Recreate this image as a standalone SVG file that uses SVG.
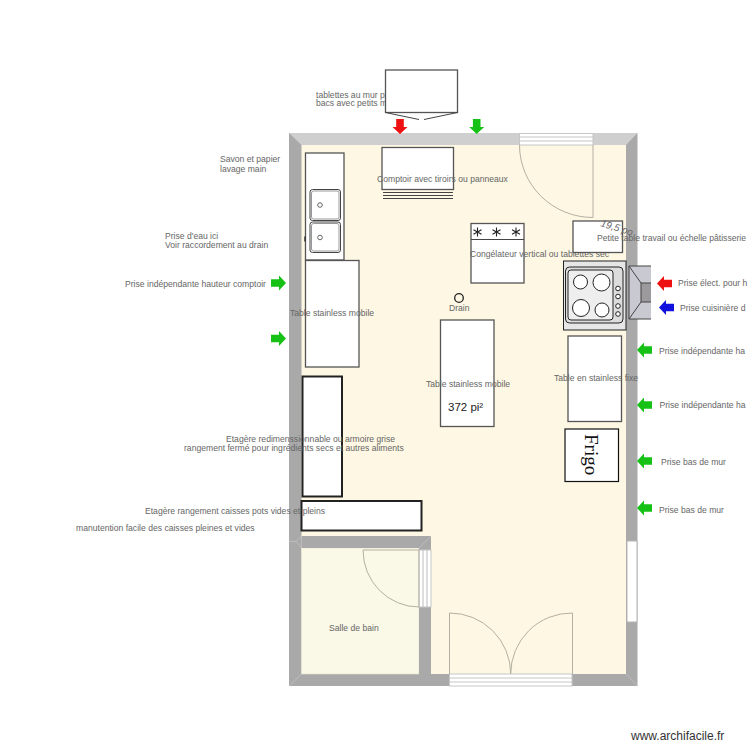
<svg xmlns="http://www.w3.org/2000/svg" xmlns:xlink="http://www.w3.org/1999/xlink" width="750" height="750" viewBox="0 0 750 750">
<style>
text{font-family:"Liberation Sans",Arial,sans-serif;font-size:8.6px;fill:#666}
.box{fill:#fff;stroke:#555;stroke-width:1.3}
.thick{fill:#fff;stroke:#222;stroke-width:2}
.thin{fill:none;stroke:#444;stroke-width:1}
.door{fill:none;stroke:#b4b0a2;stroke-width:1}
.wall{fill:#a9a9a9}
.open{fill:#fff;stroke:#c6c6c6;stroke-width:1}
.stripe{stroke:#c6c6c6;stroke-width:1.2}
.mitre{stroke:#c4c4c4;stroke-width:.7;fill:none}
</style>
<defs>
<path id="arrow" d="M0-3.8H8V-7.5L15 0L8 7.5V3.8H0Z"/>
<g id="star" stroke="#222" stroke-width="1.1"><path d="M0-4.6V4.6M-4-2.3L4 2.3M-4 2.3L4-2.3"/></g>
</defs>
<g id="plan">
<rect x="289" y="133" width="348.5" height="553" class="wall"/>
<rect x="301.500" y="133" width="325" height="12" fill="#cfcfcf"/>
<path d="M289 133H637.500L626 145H301.500Z" fill="#cfcfcf"/>
<rect x="301.500" y="145" width="324.500" height="529" fill="#fdf7e3"/>
<rect x="301.500" y="548" width="117.500" height="126" fill="#faf8e6" stroke="#e6e3cc" stroke-width=".6"/>
<path d="M289 536H431V674H419V548H301.500V536Z" class="wall"/>
<rect x="431" y="536" width="195" height="138" fill="#fdf7e3"/>
<path class="mitre" d="M289 686L301.500 674M637.500 686L626 674M289 541.500L296 541.500L301.500 536M296 541.500L301.500 548M431 536L419 548"/>
<rect x="627" y="541" width="10" height="81" fill="#fff" stroke="#b5b5b5"/>
</g>
<g id="door-top">
<rect x="519.500" y="133.500" width="73.500" height="11.500" fill="#fff" stroke="#c6c6c6"/>
<path class="stripe" d="M519.500 137H593M519.500 141H593"/>
<path class="door" d="M593 145V217.500A73.500 72.500 0 0 1 519.500 145"/>
</g>
<g id="door-bath">
<rect x="419" y="550" width="12" height="57" fill="#fff" stroke="#c6c6c6"/>
<path class="stripe" d="M423 550V607M427 550V607"/>
<path class="door" d="M363 550H419V607A56 57 0 0 1 363 550"/>
</g>
<g id="door-main">
<rect x="449.500" y="674" width="122.500" height="12" fill="#fff" stroke="#c6c6c6"/>
<path class="stripe" d="M449.500 678H572M449.500 682H572"/>
<path class="door" d="M449.500 674V613A61 61 0 0 1 510.700 674A61 61 0 0 1 572.500 613V674"/>
</g>
<g id="note-tablettes">
<text x="316" y="97.500">tablettes au mur pa</text>
<text x="316" y="105.500">bacs avec petits m</text>
</g>
<g id="box-top">
<rect x="385.500" y="70" width="72" height="42.500" class="box"/>
<path class="thin" d="M385.500 112.500L419 119.500M424 119.500L457.500 112.500"/>
</g>
<g id="counter">
<rect x="382" y="147.500" width="71.500" height="42" class="box"/>
<path class="thin" d="M383 192.500H453M383 195.500H453M383 198.500H453"/>
<text x="377" y="182">Comptoir avec tiroirs ou panneaux</text>
</g>
<g id="sink">
<rect x="305.500" y="153" width="38.500" height="107" class="box"/>
<rect x="310" y="189.500" width="30.500" height="31" rx="2.500" fill="#fff" stroke="#444"/>
<rect x="311.500" y="191" width="27.500" height="28" rx="2" fill="none" stroke="#999"/>
<circle cx="320" cy="205" r="2.300" fill="none" stroke="#666"/>
<rect x="310" y="222" width="30.500" height="30.500" rx="2.500" fill="#fff" stroke="#444"/>
<rect x="311.500" y="223.500" width="27.500" height="27.500" rx="2" fill="none" stroke="#999"/>
<circle cx="320" cy="237.500" r="2.300" fill="none" stroke="#666"/>
<path d="M305 236.500V241.500" stroke="#333" stroke-width="1.500"/>
</g>
<g id="table-left">
<rect x="305.500" y="260.500" width="53.500" height="106.500" class="box" stroke="#333"/>
<text x="290" y="316">Table stainless mobile</text>
</g>
<g id="shelf-tall">
<rect x="302.500" y="376.500" width="39.500" height="120" class="thick"/>
<text x="226" y="441.500">Etagère redimenssionnable ou armoire grise</text>
<text x="184" y="450.500">rangement fermé pour ingrédients secs et autres aliments</text>
</g>
<g id="shelf-wide">
<rect x="301.500" y="501" width="120" height="29.500" class="thick"/>
<text x="145" y="514">Etagère rangement caisses pots vides et pleins</text>
<text x="76" y="531">manutention facile des caisses pleines et vides</text>
</g>
<g id="freezer">
<rect x="471" y="223.500" width="53" height="59.500" class="box"/>
<path class="thin" d="M471 239.500H524"/>
<use xlink:href="#star" href="#star" x="477.500" y="232"/>
<use xlink:href="#star" href="#star" x="496.500" y="232"/>
<use xlink:href="#star" href="#star" x="516" y="232"/>
<text x="470" y="257">Congélateur vertical ou tablettes sec</text>
</g>
<g id="small-table">
<rect x="573" y="221" width="49.500" height="31.500" class="box" stroke="#333"/>
<text x="600" y="226" transform="rotate(17 600 226)" font-style="italic" style="font-size:10px">19,5 po</text>
<text x="597" y="241">Petite table travail ou échelle pâtisserie</text>
</g>
<g id="stove">
<rect x="563.500" y="261" width="62.500" height="69" fill="#e6e6e6" stroke="#222" stroke-width="1"/>
<rect x="565.500" y="267" width="57.500" height="56" rx="4" fill="#dcdcdc" stroke="#222"/>
<rect x="568" y="270" width="45" height="50" rx="3" fill="#eee" stroke="#222"/>
<circle cx="580.500" cy="282" r="7" fill="#fff" stroke="#222"/>
<circle cx="601.500" cy="282.500" r="8.500" fill="#fff" stroke="#222"/>
<circle cx="581" cy="308" r="8.500" fill="#fff" stroke="#222"/>
<circle cx="602" cy="310" r="7" fill="#fff" stroke="#222"/>
<circle cx="618" cy="288.500" r="2.300" fill="#fff" stroke="#222"/>
<circle cx="618" cy="296.500" r="2.300" fill="#fff" stroke="#222"/>
<circle cx="618" cy="306" r="2.300" fill="#fff" stroke="#222"/>
<circle cx="618" cy="314" r="2.300" fill="#fff" stroke="#222"/>
</g>
<g id="hood">
<path d="M629 266H651V319H629Z" fill="#c9c9d1"/>
<rect x="641" y="283" width="10" height="19" fill="#9d9a9d"/>
<path class="thin" d="M651 266H629V319H651M629 266L641 283V302L629 319M641 283H651M641 302H651"/>
</g>
<g id="table-center">
<rect x="440.500" y="320" width="53.500" height="106.500" class="box"/>
<text x="426" y="386.500">Table stainless mobile</text>
<text x="448" y="410.500" style="font-size:11.500px;fill:#222">372 pi²</text>
</g>
<g id="table-fixed">
<rect x="568" y="336" width="53.500" height="85.500" class="box"/>
<text x="554" y="381">Table en stainless fixe</text>
</g>
<g id="frigo">
<rect x="565" y="429" width="53.500" height="52.500" fill="#fff" stroke="#111" stroke-width="1.200"/>
<text x="585" y="434" transform="rotate(90 585 434)" style="font-family:'Liberation Serif',serif;font-size:19px;fill:#111">Frigo</text>
</g>
<g id="drain">
<circle cx="459" cy="298" r="4.300" fill="none" stroke="#222" stroke-width="1.300"/>
<text x="449" y="310.500">Drain</text>
</g>
<g id="bath-label"><text x="329" y="631">Salle de bain</text></g>
<g id="note-savon">
<text x="220" y="162">Savon et papier</text>
<text x="220" y="171.500">lavage main</text>
</g>
<g id="note-eau">
<text x="165" y="239">Prise d'eau ici</text>
<text x="165" y="247.500">Voir raccordement au drain</text>
</g>
<g id="outlets">
<use xlink:href="#arrow" href="#arrow" transform="translate(400 119) rotate(90)" fill="#ee1111"/>
<use xlink:href="#arrow" href="#arrow" transform="translate(476.700 119) rotate(90)" fill="#16c116"/>
<use xlink:href="#arrow" href="#arrow" transform="translate(271 283)" fill="#16c116"/>
<use xlink:href="#arrow" href="#arrow" transform="translate(271 338.500)" fill="#16c116"/>
<use xlink:href="#arrow" href="#arrow" transform="translate(672 283.500) rotate(180)" fill="#ee1111"/>
<use xlink:href="#arrow" href="#arrow" transform="translate(674 307.500) rotate(180)" fill="#1111dd"/>
<use xlink:href="#arrow" href="#arrow" transform="translate(652 350) rotate(180)" fill="#16c116"/>
<use xlink:href="#arrow" href="#arrow" transform="translate(652 405) rotate(180)" fill="#16c116"/>
<use xlink:href="#arrow" href="#arrow" transform="translate(652 461) rotate(180)" fill="#16c116"/>
<use xlink:href="#arrow" href="#arrow" transform="translate(652 508) rotate(180)" fill="#16c116"/>
<text x="125" y="287">Prise indépendante hauteur comptoir</text>
<text x="678" y="285.500">Prise élect. pour h</text>
<text x="680" y="311">Prise cuisinière d</text>
<text x="659" y="353.500">Prise indépendante ha</text>
<text x="659.500" y="408">Prise indépendante ha</text>
<text x="661" y="465">Prise bas de mur</text>
<text x="659" y="513">Prise bas de mur</text>
</g>
<g id="credit"><text x="631" y="739.500" style="font-size:12px;fill:#333">www.archifacile.fr</text></g>
</svg>
